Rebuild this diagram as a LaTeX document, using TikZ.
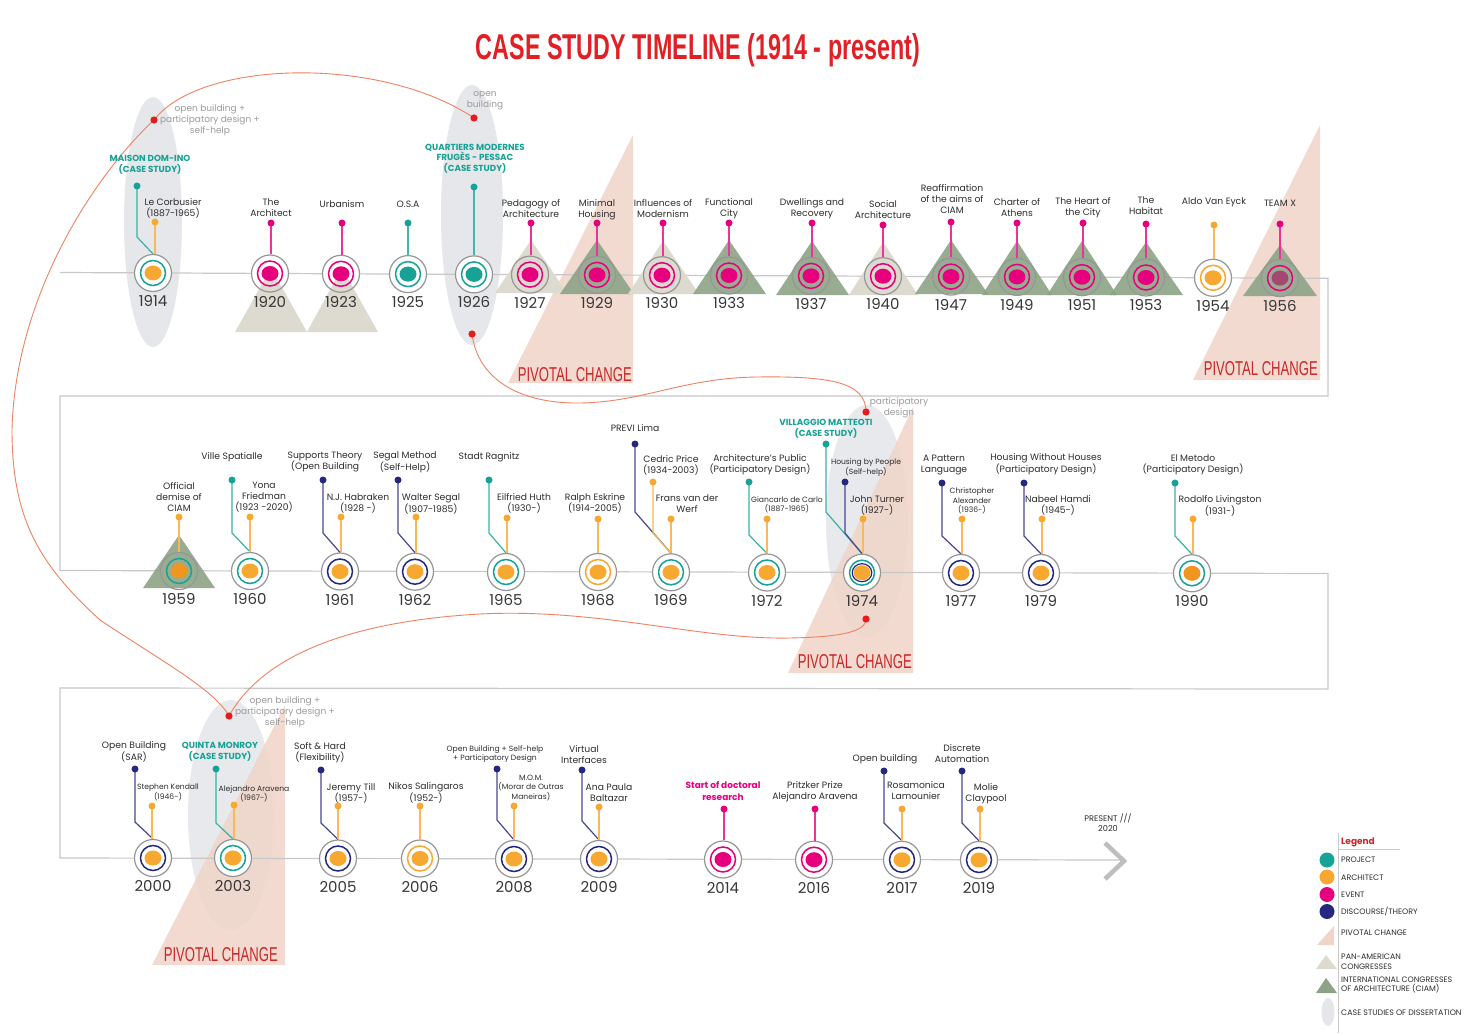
\documentclass[tikz,border=0pt]{standalone}
\usepackage{fontspec}
\setmainfont{Poppins}
\newfontfamily\arialf{Liberation Sans}
\usetikzlibrary{calc}
\definecolor{cteal}{RGB}{22,163,150}
\definecolor{corange}{RGB}{247,168,48}
\definecolor{cdorange}{RGB}{240,150,30}
\definecolor{cmag}{RGB}{230,0,126}
\definecolor{cnavy}{RGB}{38,40,128}
\definecolor{cring}{RGB}{150,150,150}
\definecolor{cline}{RGB}{200,200,200}
\definecolor{cgreen}{RGB}{140,163,134}
\definecolor{cbeige}{RGB}{221,218,207}
\definecolor{csalmon}{RGB}{240,212,200}
\definecolor{ccase}{RGB}{230,231,234}
\definecolor{ccurve}{RGB}{238,130,98}
\definecolor{cdot}{RGB}{228,28,30}
\definecolor{ctitle}{RGB}{224,32,36}
\definecolor{cpivot}{RGB}{200,40,40}
\definecolor{ctext}{RGB}{45,45,45}
\definecolor{cyear}{RGB}{55,55,55}
\definecolor{cgtext}{RGB}{155,155,155}
\definecolor{cteamx}{RGB}{165,70,115}
\definecolor{cchev}{RGB}{190,190,190}
\pgfdeclarelayer{l0}\pgfdeclarelayer{l1}\pgfdeclarelayer{l2}\pgfdeclarelayer{l3}
\pgfsetlayers{l0,l1,l2,l3,main}
% event node: name, x, y, ring colour, dot colour, year
\newcommand\ev[6]{%
  \begin{pgfonlayer}{l2}\fill[white] (#2,#3) circle (18.5pt);\end{pgfonlayer}
  \node[evnode] (#1) at (#2,#3) {};
  \draw[#4,line width=1.5pt] (#1.center) circle (12.5pt);
  \fill[#5] (#1.center) ellipse (8.5pt and 7.5pt);
  \node[yearlbl] (#1-y) at ($(#1.center)+(0,28)$) {#6};}
% straight stem: node, stem name, colour, x, y
\newcommand\st[5]{%
  \coordinate (#2) at (#4,#5);
  \draw[stem,#3!80] (#2) -- (#2 |- #1.north);
  \fill[#3] (#2) circle (3.5pt);}
% knee stem: node, stem name, colour, x, y, knee y
\newcommand\kst[6]{%
  \coordinate (#2) at (#4,#5);
  \draw[stem,#3!85] (#2) -- (#4,#6) -- (#1.north);
  \fill[#3] (#2) circle (3.5pt);}
\newcommand\lab[5][lbl]{\node[#1] (#2) at (#3,#4) {#5};}
\newcommand\tri[6]{\begin{pgfonlayer}{l3}\fill[#1] (#2,#3) -- (#5,#6) -- (#4,#6) -- cycle;\end{pgfonlayer}}
\newcommand\pivot[7]{% left x, top x, top y, bottom y, text right x, baseline, name
  \begin{pgfonlayer}{l0}\fill[csalmon,opacity=0.85] (#1,#4) -- (#2,#3) -- (#2,#4) -- cycle;\end{pgfonlayer}
  \node[pivtxt,anchor=base east] (#7) at (#5,#6) {\resizebox{114pt}{14pt}{PIVOTAL CHANGE}};}
\begin{document}
\begin{tikzpicture}[x=1pt,y=-1pt,
  evnode/.style={circle,draw=cring,line width=1.2pt,minimum size=37pt,inner sep=0pt},
  yearlbl/.style={font=\fontsize{15}{16}\selectfont,text=cyear,inner sep=0pt},
  lbl/.style={font=\fontsize{9.2}{11}\selectfont,text=ctext,align=center,inner sep=0pt},
  slbl/.style={font=\fontsize{7.6}{9.6}\selectfont,text=ctext,align=center,inner sep=0pt},
  clbl/.style={font=\fontsize{8.8}{10.6}\selectfont\bfseries,text=cteal,align=center,inner sep=0pt},
  mlbl/.style={font=\fontsize{9}{11.5}\selectfont\bfseries,text=cmag,align=center,inner sep=0pt},
  glbl/.style={font=\fontsize{9}{10.8}\selectfont,text=cgtext,align=center,inner sep=0pt},
  plbl/.style={font=\fontsize{8.2}{10}\selectfont,text=ctext,align=center,inner sep=0pt},
  pivtxt/.style={font=\arialf,text=cpivot,inner sep=0pt},
  stem/.style={line width=1.2pt},
  tline/.style={draw=cline,line width=1.2pt},
  redcurve/.style={draw=ccurve,line width=0.9pt},
  legt/.style={anchor=west,font=\fontsize{7.9}{9.6}\selectfont,text=ctext,align=left,inner sep=0pt},
  legc/.style={circle,minimum size=15pt,inner sep=0pt}]
\useasboundingbox (0,0) rectangle (1470,1035);
\begin{pgfonlayer}{l0}
\fill[white] (0,0) rectangle (1470,1035);
\fill[ccase] (153,222) ellipse (29pt and 125pt);
\fill[ccase] (472,215) ellipse (31pt and 130pt);
\fill[ccase,opacity=0.9] (867,521) ellipse (41pt and 116pt);
\fill[ccase,opacity=0.9] (231,815) ellipse (43pt and 115pt);
\end{pgfonlayer}
% title
\node[font=\arialf\bfseries,text=ctitle,inner sep=0pt,anchor=base] (title) at (698,60)
  {\resizebox{444pt}{26pt}{CASE STUDY TIMELINE (1914 - present)}};
% pivotal changes
\pivot{508}{633}{135}{383}{632}{381}{pv1}
\pivot{1193}{1320}{125}{380}{1318}{375}{pv2}
\pivot{788}{913}{407}{673}{912}{668}{pv3}
\pivot{152}{285}{705}{965}{278}{961}{pv4}
% timeline
\begin{pgfonlayer}{l1}
\draw[tline] (60,272.5) -- (1328,278.3) -- (1328,396) -- (60,396) -- (60,570.5) -- (1328,573.5)
  -- (1328,689) -- (60,688) -- (60,858) -- (1122,860);
\draw[cchev,line width=4.5pt,miter limit=3] (1105,843) -- (1124,861) -- (1105,879);
\end{pgfonlayer}
% triangles
\tri{cbeige}{271}{268}{235}{307}{332}
\tri{cbeige}{342}{268}{307}{378}{332}
\tri{cbeige}{531}{240}{495}{567}{293}
\tri{cgreen,opacity=0.9}{597}{240}{560}{634}{294}
\tri{cbeige}{663}{241}{628}{699}{294}
\tri{cgreen,opacity=0.9}{729}{240}{693}{766}{294}
\tri{cgreen,opacity=0.9}{812}{241}{776}{849}{295}
\tri{cbeige}{883}{242}{849}{918}{295}
\tri{cgreen,opacity=0.9}{951}{240}{915}{988}{294}
\tri{cgreen,opacity=0.9}{1017}{241}{982}{1052}{295}
\tri{cgreen,opacity=0.9}{1082}{241}{1047}{1117}{295}
\tri{cgreen,opacity=0.9}{1146}{242}{1110}{1183}{295}
\tri{cgreen,opacity=0.9}{1280}{245}{1243}{1317}{296}
\tri{cgreen,opacity=0.9}{179}{535}{143}{215}{588}
% ---------- row 1
\ev{n1914}{153}{273}{cteal}{corange}{1914}
\kst{n1914}{s1914a}{cteal}{137}{186}{237}
\st{n1914}{s1914b}{corange}{155}{222}
\lab[clbl]{t1914a}{150}{165}{MAISON DOM-INO\\(CASE STUDY)}
\lab{t1914b}{173}{208.5}{Le Corbusier\\(1887-1965)}
\ev{n1920}{270}{273.5}{cmag}{cmag}{1920}
\st{n1920}{s1920}{cmag}{271}{223}
\lab{t1920}{271}{207.5}{The\\Architect}
\ev{n1923}{341}{273.8}{cmag}{cmag}{1923}
\st{n1923}{s1923}{cmag}{342}{223}
\lab{t1923}{342}{204}{Urbanism}
\ev{n1925}{408}{274.1}{cteal}{cteal}{1925}
\st{n1925}{s1925}{cteal}{408}{223}
\lab{t1925}{408}{204}{O.S.A}
\ev{n1926}{474}{274.4}{cteal}{cteal}{1926}
\st{n1926}{s1926}{cteal}{474}{187}
\lab[clbl]{t1926}{475}{158.5}{QUARTIERS MODERNES\\FRUGÈS - PESSAC\\(CASE STUDY)}
\ev{n1927}{530}{274.6}{cmag}{cmag}{1927}
\st{n1927}{s1927}{cmag}{531}{223}
\lab{t1927}{531}{208.5}{Pedagogy of\\Architecture}
\ev{n1929}{597}{274.9}{cmag}{cmag}{1929}
\st{n1929}{s1929}{cmag}{597}{223}
\lab{t1929}{597}{209.5}{Minimal\\Housing}
\ev{n1930}{662}{275.2}{cmag}{cmag}{1930}
\st{n1930}{s1930}{cmag}{663}{223}
\lab{t1930}{663}{208.5}{Influences of\\Modernism}
\ev{n1933}{729}{275.5}{cmag}{cmag}{1933}
\st{n1933}{s1933}{cmag}{729}{223}
\lab{t1933}{729}{208.5}{Functional\\City}
\ev{n1937}{811}{275.9}{cmag}{cmag}{1937}
\st{n1937}{s1937}{cmag}{812}{223}
\lab{t1937}{812}{208.5}{Dwellings and\\Recovery}
\ev{n1940}{883}{276.2}{cmag}{cmag}{1940}
\st{n1940}{s1940}{cmag}{883}{225}
\lab{t1940}{883}{209.5}{Social\\Architecture}
\ev{n1947}{951}{276.6}{cmag}{cmag}{1947}
\st{n1947}{s1947}{cmag}{951}{222}
\lab{t1947}{952}{199.5}{Reaffirmation\\of the aims of\\CIAM}
\ev{n1949}{1017}{276.9}{cmag}{cmag}{1949}
\st{n1949}{s1949}{cmag}{1017}{223}
\lab{t1949}{1017}{207.5}{Charter of\\Athens}
\ev{n1951}{1082}{277.2}{cmag}{cmag}{1951}
\st{n1951}{s1951}{cmag}{1083}{223}
\lab{t1951}{1083}{207.5}{The Heart of\\the City}
\ev{n1953}{1146}{277.5}{cmag}{cmag}{1953}
\st{n1953}{s1953}{cmag}{1146}{224}
\lab{t1953}{1146}{206}{The\\Habitat}
\ev{n1954}{1213}{277.8}{corange}{corange}{1954}
\st{n1954}{s1954}{corange}{1214}{225}
\lab{t1954}{1214}{202}{Aldo Van Eyck}
\ev{n1956}{1280}{278.1}{cmag}{cteamx}{1956}
\st{n1956}{s1956}{cmag}{1280}{224}
\lab{t1956}{1280}{203}{TEAM X}
% ---------- row 2
\ev{n1959}{179}{571}{cteal}{cdorange}{1959}
\st{n1959}{s1959}{corange}{179}{517}
\lab{t1959}{179}{497.5}{Official\\demise of\\CIAM}
\ev{n1960}{250}{571}{cteal}{corange}{1960}
\kst{n1960}{s1960a}{cteal}{232}{480}{533}
\st{n1960}{s1960b}{corange}{250}{517}
\lab{t1960a}{232}{457}{Ville Spatialle}
\lab{t1960b}{264}{497}{Yona\\Friedman\\(1923 -2020)}
\ev{n1961}{340}{571.5}{cnavy}{corange}{1961}
\kst{n1961}{s1961a}{cnavy}{323}{480}{533}
\st{n1961}{s1961b}{corange}{341}{517}
\lab{t1961a}{325}{461.5}{Supports Theory\\(Open Building}
\lab{t1961b}{358}{503.5}{N.J. Habraken\\(1928 -)}
\ev{n1962}{415}{571.7}{cnavy}{corange}{1962}
\kst{n1962}{s1962a}{cnavy}{398}{480}{533}
\st{n1962}{s1962b}{corange}{416}{517}
\lab{t1962a}{405}{462}{Segal Method\\(Self-Help)}
\lab{t1962b}{431}{503.5}{Walter Segal\\(1907-1985)}
\ev{n1965}{506}{572}{cteal}{corange}{1965}
\kst{n1965}{s1965a}{cteal}{489}{480}{533}
\st{n1965}{s1965b}{corange}{507}{518}
\lab{t1965a}{489}{457}{Stadt Ragnitz}
\lab{t1965b}{524}{503.5}{Eilfried Huth\\(1930-)}
\ev{n1968}{598}{572}{corange}{corange}{1968}
\st{n1968}{s1968}{corange}{598}{519}
\lab{t1968}{595}{503.5}{Ralph Eskrine\\(1914-2005)}
\ev{n1969}{671}{572.3}{cteal}{corange}{1969}
\kst{n1969}{s1969a}{cnavy}{635}{444}{512}
\kst{n1969}{s1969b}{corange}{653}{482}{533}
\st{n1969}{s1969c}{corange}{671}{519}
\lab{t1969a}{635}{428}{PREVI Lima}
\lab{t1969b}{671}{465}{Cedric Price\\(1934-2003)}
\lab{t1969c}{687}{504}{Frans van der\\Werf}
\ev{n1972}{767}{572.5}{cteal}{corange}{1972}
\kst{n1972}{s1972a}{cteal}{749}{482}{535}
\st{n1972}{s1972b}{corange}{767}{519}
\lab{t1972a}{760}{464.5}{Architecture’s Public\\(Participatory Design)}
\lab[slbl]{t1972b}{787}{505}{Giancarlo de Carlo\\(1887-1965)}
\ev{n1974}{862}{572.7}{cteal}{corange}{1974}
\draw[cnavy,line width=1.2pt] (n1974.center) ellipse (9.8pt and 9pt);
\kst{n1974}{s1974a}{cteal}{826}{444}{512}
\kst{n1974}{s1974b}{cnavy}{845}{482}{533}
\st{n1974}{s1974c}{corange}{863}{519}
\lab[clbl]{t1974a}{826}{428.5}{VILLAGGIO MATTEOTI\\(CASE STUDY)}
\lab[slbl]{t1974b}{866}{467.5}{Housing by People\\(Self-help)}
\lab{t1974c}{877}{505}{John Turner\\(1927-)}
\ev{n1977}{961}{573}{cnavy}{corange}{1977}
\kst{n1977}{s1977a}{cnavy}{942}{483}{536}
\st{n1977}{s1977b}{corange}{962}{519}
\lab{t1977a}{944}{465}{A Pattern\\Language}
\lab[slbl]{t1977b}{972}{501}{Christopher\\Alexander\\(1936-)}
\ev{n1979}{1041}{573}{cnavy}{corange}{1979}
\kst{n1979}{s1979a}{cnavy}{1024}{483}{536}
\st{n1979}{s1979b}{corange}{1042}{519}
\lab{t1979a}{1046}{464.5}{Housing Without Houses\\(Participatory Design)}
\lab{t1979b}{1058}{505.5}{Nabeel Hamdi\\(1945-)}
\ev{n1990}{1192}{573.3}{cteal}{cdorange}{1990}
\kst{n1990}{s1990a}{cteal}{1175}{483}{536}
\st{n1990}{s1990b}{corange}{1193}{519}
\lab{t1990a}{1193}{464.5}{El Metodo\\(Participatory Design)}
\lab{t1990b}{1220}{505.5}{Rodolfo Livingston\\(1931-)}
% ---------- row 3
\ev{n2000}{153}{858}{cnavy}{corange}{2000}
\kst{n2000}{s2000a}{cnavy}{135}{769}{822}
\st{n2000}{s2000b}{corange}{152}{806}
\lab{t2000a}{134}{751.5}{Open Building\\(SAR)}
\lab[slbl]{t2000b}{168}{792.5}{Stephen Kendall\\(1946-)}
\ev{n2003}{233}{858}{cteal}{corange}{2003}
\kst{n2003}{s2003a}{cteal}{216}{769}{823}
\st{n2003}{s2003b}{corange}{234}{805}
\lab[clbl]{t2003a}{220}{752}{QUINTA MONROY\\(CASE STUDY)}
\lab[slbl]{t2003b}{254}{794}{Alejandro Aravena\\(1967-)}
\ev{n2005}{338}{858.5}{cnavy}{corange}{2005}
\kst{n2005}{s2005a}{cnavy}{321}{770}{823}
\st{n2005}{s2005b}{corange}{338}{806}
\lab{t2005a}{320}{752.5}{Soft \& Hard\\(Flexibility)}
\lab{t2005b}{351}{793.5}{Jeremy Till\\(1957-)}
\ev{n2006}{420}{858.5}{corange}{corange}{2006}
\st{n2006}{s2006}{corange}{420}{806}
\lab{t2006}{426}{792.5}{Nikos Salingaros\\(1952-)}
\ev{n2008}{514}{859}{cnavy}{corange}{2008}
\kst{n2008}{s2008a}{cnavy}{497}{769}{820}
\st{n2008}{s2008b}{corange}{514}{806}
\lab[slbl]{t2008a}{495}{754}{Open Building + Self-help\\+ Participatory Design}
\lab[slbl]{t2008b}{531}{788}{M.O.M.\\(Morar de Outras\\Maneiras)}
\ev{n2009}{599}{859}{cnavy}{corange}{2009}
\kst{n2009}{s2009a}{cnavy}{582}{770}{821}
\st{n2009}{s2009b}{corange}{599}{807}
\lab{t2009a}{584}{755}{Virtual\\Interfaces}
\lab{t2009b}{609}{792.5}{Ana Paula\\Baltazar}
\ev{n2014}{723}{859.5}{cmag}{cmag}{2014}
\st{n2014}{s2014}{cmag}{724}{809}
\lab[mlbl]{t2014}{723}{791}{Start of doctoral\\research}
\ev{n2016}{814}{859.7}{cmag}{cmag}{2016}
\st{n2016}{s2016}{cmag}{815}{809}
\lab{t2016}{815}{791.5}{Pritzker Prize\\Alejandro Aravena}
\ev{n2017}{902}{859.8}{cnavy}{corange}{2017}
\kst{n2017}{s2017a}{cnavy}{884}{771}{823}
\st{n2017}{s2017b}{corange}{902}{809}
\lab{t2017a}{885}{759}{Open building}
\lab{t2017b}{916}{791}{Rosamonica\\Lamounier}
\ev{n2019}{979}{860}{cnavy}{corange}{2019}
\kst{n2019}{s2019a}{cnavy}{962}{771}{823}
\st{n2019}{s2019b}{corange}{980}{809}
\lab{t2019a}{962}{753.5}{Discrete\\Automation}
\lab{t2019b}{986}{793.5}{Molie\\Claypool}
\lab[plbl]{tpresent}{1108}{823}{PRESENT ///\\2020}
% ---------- red connection curves
\coordinate (rd1) at (154,120);
\coordinate (rd2) at (474,118);
\coordinate (rd3) at (472,334);
\coordinate (rd4) at (866,412);
\coordinate (rd5) at (866,619);
\coordinate (rd6) at (229,716);
\begin{pgfonlayer}{l1}
\draw[redcurve] (rd1) .. controls (200,60) and (380,55) .. (rd2);
\draw[redcurve] (rd1) .. controls (90,180) and (15,300) .. (12,430)
  .. controls (12,520) and (40,565) .. (100,620) .. controls (160,660) and (215,690) .. (rd6);
\draw[redcurve] (rd3) .. controls (478,380) and (520,402) .. (573,403)
  .. controls (640,404) and (680,378) .. (757,377) .. controls (830,376) and (866,382) .. (rd4);
\draw[redcurve] (rd6) .. controls (260,660) and (340,622) .. (480,614)
  .. controls (600,608) and (700,640) .. (790,638) .. controls (840,637) and (866,632) .. (rd5);
\end{pgfonlayer}
\foreach \d in {rd1,rd2,rd3,rd4,rd5,rd6} \fill[cdot] (\d) circle (3.6pt);
\lab[glbl]{g1}{210}{120}{open building +\\participatory design +\\self-help}
\lab[glbl]{g2}{485}{101}{open\\building}
\lab[glbl]{g3}{899}{407.5}{participatory\\design}
\lab[glbl]{g4}{285}{712}{open building +\\participatory design +\\self-help}
% ---------- legend
\draw[cline,line width=1pt] (1338,833) -- (1338,1033);
\draw[cline,line width=1pt] (1338,849) -- (1400,849);
\node[font=\fontsize{9}{10}\selectfont\bfseries,text=cpivot,inner sep=0pt] (lgt) at (1358,842) {Legend};
\node[legc,fill=cteal] (lg1) at (1327,860) {};
\node[legc,fill=corange] (lg2) at (1327,877) {};
\node[legc,fill=cmag] (lg3) at (1327,894.5) {};
\node[legc,fill=cnavy] (lg4) at (1327,911.5) {};
\fill[csalmon] (1317,945) -- (1334,926) -- (1334,945) -- cycle;
\fill[cbeige] (1316,969) -- (1326,955) -- (1337,969) -- cycle;
\fill[cgreen] (1316,993) -- (1326,978) -- (1337,993) -- cycle;
\fill[ccase] (1328,1012) ellipse (6.5pt and 14pt);
\node[legt] (lt1) at (1341,860) {PROJECT};
\node[legt] (lt2) at (1341,878) {ARCHITECT};
\node[legt] (lt3) at (1341,895) {EVENT};
\node[legt] (lt4) at (1341,911) {DISCOURSE/THEORY};
\node[legt] (lt5) at (1341,933) {PIVOTAL CHANGE};
\node[legt] (lt6) at (1341,961.5) {PAN-AMERICAN\\CONGRESSES};
\node[legt] (lt7) at (1341,985) {INTERNATIONAL CONGRESSES\\OF ARCHITECTURE (CIAM)};
\node[legt] (lt8) at (1341,1013) {CASE STUDIES OF DISSERTATION};
\end{tikzpicture}
\end{document}
